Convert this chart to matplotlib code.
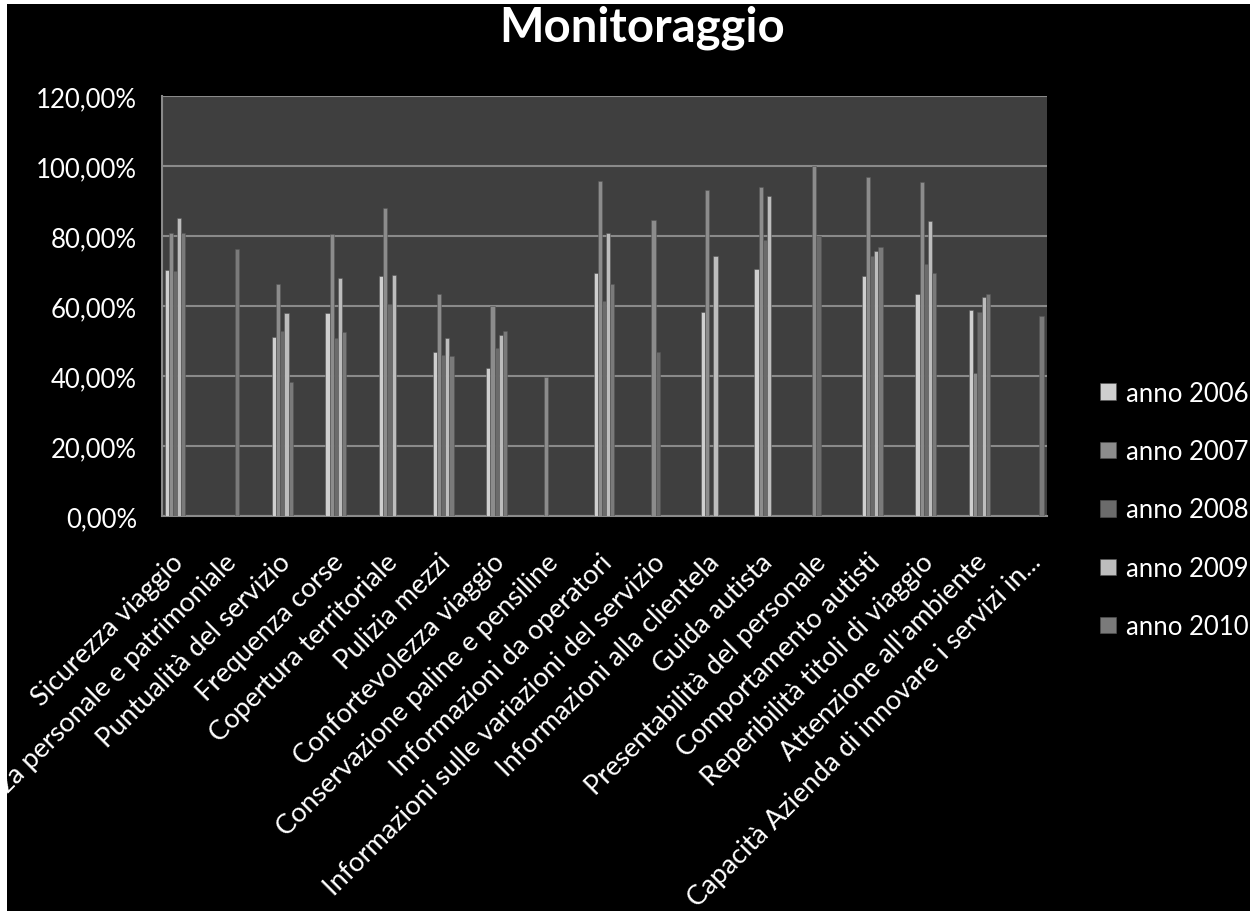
import numpy as np
import matplotlib
matplotlib.use("Agg")
import matplotlib.pyplot as plt
import matplotlib.transforms as mtransforms
from matplotlib.patches import Rectangle
from matplotlib.ticker import FuncFormatter

plt.rcParams['font.family'] = ['Lato', 'DejaVu Sans']

categories = [
    "Sicurezza viaggio",
    "Sicurezza personale e patrimoniale",
    "Puntualità del servizio",
    "Frequenza corse",
    "Copertura territoriale",
    "Pulizia mezzi",
    "Confortevolezza viaggio",
    "Conservazione paline e pensiline",
    "Informazioni da operatori",
    "Informazioni sulle variazioni del servizio",
    "Informazioni alla clientela",
    "Guida autista",
    "Presentabilità del personale",
    "Comportamento autisti",
    "Reperibilità titoli di viaggio",
    "Attenzione all'ambiente",
    "Capacità Azienda di innovare i servizi in...",
]

series_names = ["anno 2006", "anno 2007", "anno 2008", "anno 2009", "anno 2010"]

nan = np.nan
anno_2006 = [70.3, nan, 51.1, 58.0, 68.6, 47.0, 42.3, nan, 69.4, nan, 58.3, 70.6, nan, 68.6, 63.4, 58.9, nan]
anno_2007 = [80.9, nan, 66.3, 80.5, 88.0, 63.5, 60.0, 39.7, 95.7, 84.6, 93.1, 94.0, 100.0, 96.9, 95.4, 40.9, nan]
anno_2008 = [70.0, nan, 52.9, 50.8, 60.6, 46.1, 48.0, nan, 61.4, 46.9, nan, 78.9, 80.0, 74.3, 72.0, 58.3, nan]
anno_2009 = [85.1, nan, 58.0, 68.0, 68.9, 50.8, 51.7, nan, 80.9, nan, 74.3, 91.4, nan, 75.7, 84.3, 62.6, nan]
anno_2010 = [80.9, 76.3, 38.3, 52.5, nan, 45.7, 52.9, nan, 66.3, nan, nan, nan, nan, 76.9, 69.4, 63.4, 57.1]

series = [anno_2006, anno_2007, anno_2008, anno_2009, anno_2010]
colors = ["#cfcfcf", "#8c8c8c", "#6b6b6b", "#bdbdbd", "#7a7a7a"]

W, H = 1250, 912
fig = plt.figure(figsize=(W / 100, H / 100), dpi=100, facecolor="black")
# white strips at top and left as in the reference
fig.patches.append(Rectangle((0, 0), 7 / W, 1, transform=fig.transFigure,
                             facecolor="white", edgecolor="none", zorder=-10))
fig.patches.append(Rectangle((0, 1 - 5 / H), 1, 5 / H, transform=fig.transFigure,
                             facecolor="white", edgecolor="none", zorder=-10))

ax = fig.add_axes([162 / W, 1 - 517 / H, (1047 - 162) / W, (517 - 97) / H])
ax.set_facecolor("#3f3f3f")

x = np.arange(len(categories))
bw = 0.078
for i, (vals, c, name) in enumerate(zip(series, colors, series_names)):
    ax.bar(x + (i - 2) * bw, np.array(vals, dtype=float), width=bw, color=c,
           edgecolor="#555555", linewidth=0.4, label=name, zorder=3)

ax.set_ylim(0, 120)
ax.set_yticks(np.arange(0, 121, 20))
ax.yaxis.set_major_formatter(FuncFormatter(lambda v, p: f"{v:.2f}".replace(".", ",") + "%"))
ax.set_xlim(-0.242, 16.26)
ax.grid(axis="y", color="#8a8a8a", linewidth=1.5, zorder=1)
ax.set_axisbelow(True)
for side in ["top", "right"]:
    ax.spines[side].set_visible(False)
for side in ["left", "bottom"]:
    ax.spines[side].set_color("#8a8a8a")
    ax.spines[side].set_linewidth(1.5)

ax.tick_params(axis="y", length=0, pad=18, labelsize=18.5, labelcolor="white")
ax.set_xticks(x)
ax.set_xticklabels(categories, rotation=45, ha="right", va="center", rotation_mode="anchor")
ax.tick_params(axis="x", length=0, pad=30, labelsize=19.5, labelcolor="white")
offset = mtransforms.ScaledTranslation(4 / 100, 0, fig.dpi_scale_trans)
for lbl in ax.get_xticklabels():
    lbl.set_transform(lbl.get_transform() + offset)

fig.text(642 / W, 1 - 6 / H, "Monitoraggio", ha="center", va="top",
         fontsize=34, fontweight="bold", color="white")

leg = ax.legend(loc="center left", bbox_to_anchor=(1077 / W, 1 - 511 / H),
                bbox_transform=fig.transFigure, frameon=False, fontsize=18.5,
                labelcolor="white", handlelength=0.6, handleheight=0.6,
                handletextpad=0.4, labelspacing=1.3)

fig.savefig("out.png", dpi=100, facecolor=fig.get_facecolor())
